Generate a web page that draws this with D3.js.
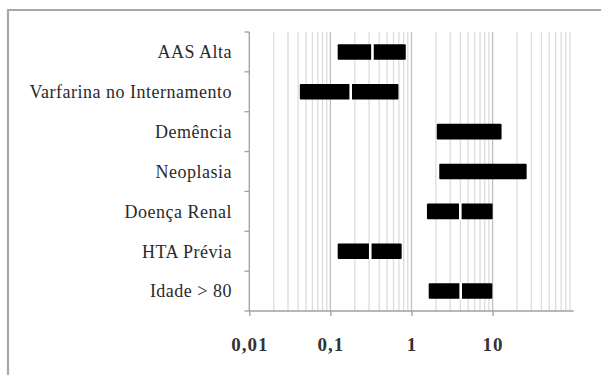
<!DOCTYPE html>
<html><head><meta charset="utf-8">
<script src="https://cdn.jsdelivr.net/npm/d3@7"></script>
<style>html,body{margin:0;padding:0;background:#fff;}svg{display:block;}</style>
</head><body>
<svg id="chart" width="601" height="375"></svg>
<script>
const categories = ["AAS Alta","Varfarina no Internamento","Demência","Neoplasia","Doença Renal","HTA Prévia","Idade > 80"];
const lower = [0.123, 0.042, 2.05, 2.2, 1.55, 0.123, 1.63];
const oddsRatio = [0.33, 0.178, null, null, 4.0, 0.31, 4.04];
const upper = [0.85, 0.69, 12.9, 26.3, 10.0, 0.757, 9.9];
const majorTicks = [0.01, 0.1, 1, 10];
const tickLabels = ["0,01", "0,1", "1", "10"];

const svg = d3.select("#chart");
// outer frame
svg.append("path").attr("d","M8,375 V10 H601").attr("fill","none").attr("stroke","#a8a8a8").attr("stroke-width",2.2);

const x = d3.scaleLog().domain([0.01,100]).range([249.3,573.7]);
const y = d3.scaleBand().domain(categories).range([32,311]).paddingInner(0.61).paddingOuter(0.305);

// gridlines
const minor = [];
[0.01,0.1,1,10].forEach(d => { for (let k=2;k<=9;k++) minor.push(+(d*k).toPrecision(3)); });
svg.append("g").selectAll("line").data(minor).join("line")
  .attr("x1",d=>x(d)).attr("x2",d=>x(d)).attr("y1",32).attr("y2",311)
  .attr("stroke","#dcdcdc").attr("stroke-width",1.3);
svg.append("g").selectAll("line").data(majorTicks.slice(1)).join("line")
  .attr("x1",d=>x(d)).attr("x2",d=>x(d)).attr("y1",32).attr("y2",311)
  .attr("stroke","#c0c0c0").attr("stroke-width",1.3);

// x axis
const xAxis = d3.axisBottom(x).tickValues(majorTicks).tickSize(5).tickFormat((d,i)=>tickLabels[i]);
const gx = svg.append("g").attr("transform","translate(0,311)").call(xAxis);
gx.select(".domain").attr("stroke","#a0a0a0").attr("stroke-width",1.3).attr("d","M249.3,0H573.7");
gx.selectAll(".tick line").attr("stroke","#a0a0a0").attr("stroke-width",1.3);
gx.selectAll(".tick text").attr("y",40).attr("dy",0)
  .attr("font-family","'Liberation Serif', serif").attr("font-size",19).attr("font-weight","bold")
  .attr("letter-spacing","1px").attr("fill","#333");

// y axis
const step = y.step();
const gy = svg.append("g");
gy.append("line").attr("x1",249.3).attr("x2",249.3).attr("y1",32).attr("y2",311).attr("stroke","#a0a0a0").attr("stroke-width",1.3);
gy.selectAll("line.yt").data(d3.range(categories.length+1)).join("line").attr("class","yt")
  .attr("x1",244.5).attr("x2",249.3).attr("y1",i=>32+i*step).attr("y2",i=>32+i*step)
  .attr("stroke","#a0a0a0").attr("stroke-width",1.3);
gy.selectAll("text").data(categories).join("text")
  .attr("x",232).attr("y",d=>y(d)+y.bandwidth()/2).attr("dy","0.35em")
  .attr("text-anchor","end").attr("font-family","'Liberation Serif', serif").attr("font-size",18)
  .attr("letter-spacing","0.5px").attr("fill","#2a2a2a")
  .text(d=>d);

// bars
const rows = categories.map((c,i)=>({c, lo:lower[i], or:oddsRatio[i], hi:upper[i]}));
const gb = svg.append("g");
gb.selectAll("rect").data(rows).join("rect")
  .attr("x",d=>x(d.lo)).attr("width",d=>x(d.hi)-x(d.lo))
  .attr("y",d=>y(d.c)).attr("height",y.bandwidth())
  .attr("fill","#000").attr("rx",1);
gb.selectAll("line").data(rows.filter(d=>d.or!=null)).join("line")
  .attr("x1",d=>x(d.or)).attr("x2",d=>x(d.or))
  .attr("y1",d=>y(d.c)-1).attr("y2",d=>y(d.c)+y.bandwidth()+1)
  .attr("stroke","#fff").attr("stroke-width",2.6);
</script>
</body></html>
